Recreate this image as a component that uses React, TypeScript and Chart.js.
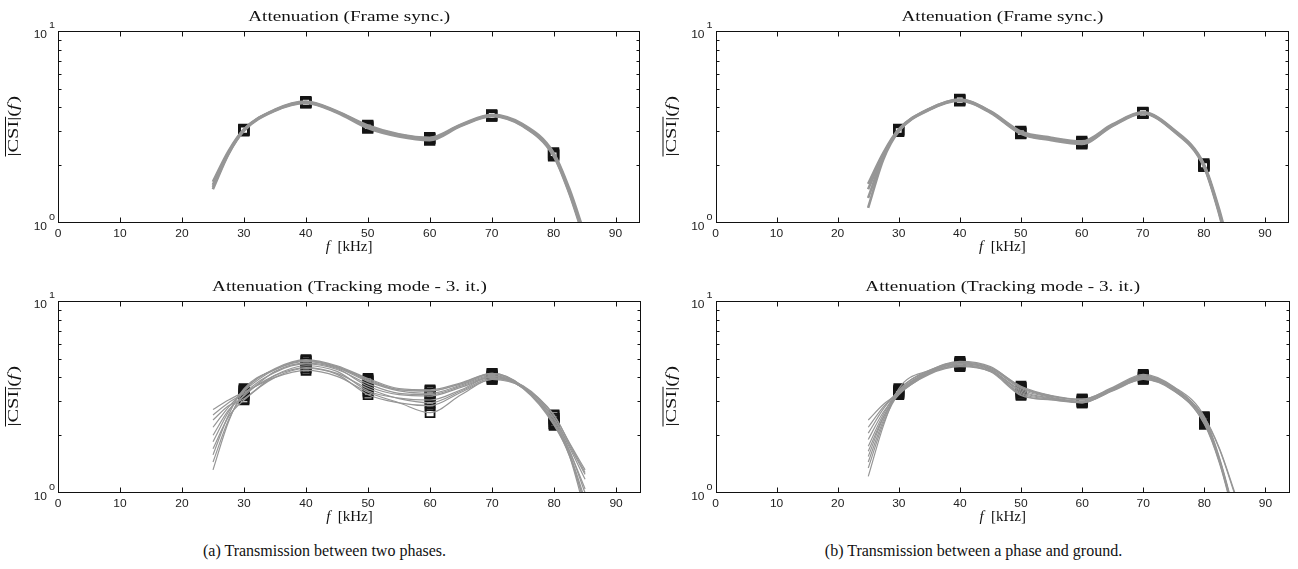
import React, { useEffect, useRef } from "react";
import { Chart, registerables } from "chart.js";

Chart.register(...registerables);

// Frequencies (kHz) at which the fitted attenuation curves are sampled
const FIT_FREQS = [25, 27.5, 30, 35, 40, 45, 50, 55, 60, 65, 70, 75, 80, 82.5, 85];
// Carrier frequencies (kHz) where the CSI was measured (square markers)
const MEASURED_FREQS = [30, 40, 50, 60, 70, 80];

const X_TICKS = [0, 10, 20, 30, 40, 50, 60, 70, 80, 90];
const X_MAX = 94;
const Y_DECADES = [0, 1];
const Y_MINOR_TICKS = [2, 3, 4, 5, 6, 7, 8, 9];

const TITLE_FRAME = "Attenuation (Frame sync.)";
const TITLE_TRACKING = "Attenuation (Tracking mode - 3. it.)";
const CAPTION_A = "(a) Transmission between two phases.";
const CAPTION_B = "(b) Transmission between a phase and ground.";

// (a) two phases, frame synchronisation
const frameSyncPhases = [
  [1.50, 2.28, 3.02, 3.84, 4.22, 3.76, 3.12, 2.82, 2.70, 3.20, 3.60, 3.20, 2.24, 1.44, 0.82],
  [1.58, 2.32, 3.05, 3.87, 4.26, 3.79, 3.17, 2.86, 2.74, 3.23, 3.63, 3.24, 2.28, 1.48, 0.85],
  [1.64, 2.36, 3.07, 3.89, 4.29, 3.82, 3.22, 2.90, 2.78, 3.25, 3.66, 3.27, 2.32, 1.52, 0.88],
  [1.54, 2.30, 3.04, 3.86, 4.24, 3.80, 3.19, 2.88, 2.76, 3.22, 3.62, 3.22, 2.26, 1.46, 0.84],
];

// (a) two phases, tracking mode after 3 iterations
const trackingPhases = [
  [2.72, 3.05, 3.35, 4.00, 4.35, 4.05, 3.35, 2.95, 2.62, 3.25, 3.90, 3.62, 2.52, 1.82, 1.32],
  [2.55, 2.95, 3.30, 4.10, 4.50, 4.20, 3.50, 3.10, 2.95, 3.40, 3.95, 3.58, 2.45, 1.76, 1.25],
  [2.40, 2.85, 3.10, 4.10, 4.60, 4.30, 3.40, 3.12, 3.05, 3.45, 4.05, 3.60, 2.45, 1.72, 1.18],
  [2.20, 2.80, 3.40, 4.40, 4.90, 4.55, 3.90, 3.45, 3.40, 3.70, 4.15, 3.55, 2.30, 1.60, 0.92],
  [2.00, 2.70, 3.20, 4.30, 4.75, 4.45, 3.60, 3.25, 3.20, 3.55, 4.00, 3.52, 2.35, 1.65, 1.05],
  [1.85, 2.65, 3.45, 4.45, 4.95, 4.60, 3.95, 3.50, 3.45, 3.75, 4.20, 3.58, 2.30, 1.58, 0.86],
  [1.70, 2.50, 3.05, 4.00, 4.45, 4.15, 3.25, 2.95, 2.85, 3.35, 3.90, 3.55, 2.55, 1.80, 1.28],
  [1.58, 2.55, 3.50, 4.40, 4.85, 4.50, 3.80, 3.40, 3.30, 3.65, 4.10, 3.50, 2.25, 1.55, 0.80],
  [1.45, 2.40, 3.25, 4.25, 4.70, 4.40, 3.70, 3.30, 3.25, 3.60, 4.05, 3.52, 2.40, 1.66, 1.00],
  [1.32, 2.35, 3.40, 4.40, 4.90, 4.55, 3.85, 3.45, 3.40, 3.72, 4.20, 3.58, 2.28, 1.56, 0.88],
];

// (b) phase to ground, frame synchronisation
const frameSyncGround = [
  [1.20, 2.15, 3.00, 3.88, 4.33, 3.76, 2.92, 2.70, 2.58, 3.20, 3.72, 3.02, 1.97, 1.12, 0.54],
  [1.35, 2.22, 3.03, 3.90, 4.36, 3.79, 2.96, 2.74, 2.62, 3.23, 3.75, 3.05, 2.00, 1.15, 0.56],
  [1.50, 2.28, 3.05, 3.92, 4.38, 3.82, 3.00, 2.78, 2.66, 3.26, 3.77, 3.08, 2.03, 1.18, 0.58],
  [1.60, 2.32, 3.07, 3.93, 4.40, 3.80, 2.94, 2.72, 2.60, 3.22, 3.74, 3.04, 1.99, 1.14, 0.55],
];

// (b) phase to ground, tracking mode after 3 iterations
const trackingGround = [
  [2.40, 2.90, 3.30, 4.20, 4.60, 4.30, 3.45, 3.15, 3.00, 3.45, 3.95, 3.45, 2.40, 1.48, 0.76],
  [2.20, 2.82, 3.35, 4.25, 4.70, 4.40, 3.35, 3.10, 2.95, 3.40, 3.90, 3.40, 2.35, 1.45, 0.74],
  [2.05, 2.75, 3.40, 4.30, 4.75, 4.45, 3.55, 3.20, 3.05, 3.50, 4.05, 3.50, 2.42, 1.50, 0.76],
  [1.90, 2.65, 3.30, 4.20, 4.60, 4.32, 3.30, 3.08, 2.98, 3.45, 4.00, 3.48, 2.45, 1.68, 0.98],
  [1.75, 2.58, 3.45, 4.35, 4.80, 4.50, 3.60, 3.22, 3.08, 3.52, 4.10, 3.55, 2.48, 1.70, 1.00],
  [1.65, 2.50, 3.25, 4.15, 4.55, 4.28, 3.22, 3.05, 2.95, 3.42, 3.92, 3.42, 2.30, 1.44, 0.74],
  [1.55, 2.48, 3.35, 4.25, 4.70, 4.40, 3.40, 3.12, 3.00, 3.48, 4.02, 3.50, 2.38, 1.47, 0.75],
  [1.45, 2.40, 3.40, 4.30, 4.75, 4.45, 3.50, 3.18, 3.05, 3.50, 4.08, 3.52, 2.40, 1.48, 0.76],
  [1.35, 2.32, 3.30, 4.20, 4.65, 4.35, 3.25, 3.06, 2.97, 3.44, 3.98, 3.46, 2.28, 1.42, 0.72],
  [1.22, 2.25, 3.50, 4.35, 4.85, 4.55, 3.55, 3.20, 3.08, 3.55, 4.15, 3.58, 2.50, 1.52, 0.78],
];

const CURVE_GRAY = "rgb(150,150,150)";
const MARKER_EDGE = "#141414";
const SANS = '"Liberation Sans", Arial, Helvetica, sans-serif';
const SERIF = '"Liberation Serif", "Times New Roman", serif';
// horizontal widening applied to the axis lettering
const SANS_STRETCH = 1.2;
const TITLE_STRETCH = 1.37;
const YLABEL_STRETCH = 1.36;

type PanelProps = {
  title: string;
  curves: number[][];
  lineWidth: number;
  markerEdge: number;
  x: number;
  y: number;
  width: number;
  height: number;
  padding: { left: number; right: number; top: number; bottom: number };
};

function stretchedText(
  ctx: CanvasRenderingContext2D,
  text: string,
  x: number,
  y: number,
  sx: number
) {
  ctx.save();
  ctx.translate(x, y);
  ctx.scale(sx, 1);
  ctx.fillText(text, 0, 0);
  ctx.restore();
}

function makeAxesPlugin(title: string) {
  return {
    id: "matlabAxes",
    afterDatasetsDraw(chart: any) {
      const { ctx, chartArea: a } = chart;
      const xs = chart.scales.x;
      const ys = chart.scales.y;
      const L = Math.round(a.left) + 0.5;
      const R = Math.round(a.right) - 0.5;
      const T = Math.round(a.top) + 0.5;
      const B = Math.round(a.bottom) - 0.5;
      ctx.save();

      // box and inward ticks
      ctx.strokeStyle = "#111";
      ctx.lineWidth = 1;
      ctx.strokeRect(L, T, R - L, B - T);
      ctx.beginPath();
      for (const v of X_TICKS) {
        const px = Math.round(xs.getPixelForValue(v)) + 0.5;
        ctx.moveTo(px, B);
        ctx.lineTo(px, B - 5);
        ctx.moveTo(px, T);
        ctx.lineTo(px, T + 5);
      }
      for (const v of Y_MINOR_TICKS) {
        const py = Math.round(ys.getPixelForValue(v)) + 0.5;
        ctx.moveTo(L, py);
        ctx.lineTo(L + 3, py);
        ctx.moveTo(R, py);
        ctx.lineTo(R - 3, py);
      }
      ctx.stroke();

      // x tick labels
      ctx.fillStyle = "#222";
      ctx.font = `10px ${SANS}`;
      ctx.textAlign = "center";
      ctx.textBaseline = "middle";
      for (const v of X_TICKS) {
        stretchedText(ctx, String(v), xs.getPixelForValue(v), a.bottom + 11, SANS_STRETCH);
      }

      // y tick labels as powers of ten
      for (const e of Y_DECADES) {
        const py = ys.getPixelForValue(Math.pow(10, e));
        ctx.font = `10px ${SANS}`;
        ctx.textAlign = "right";
        ctx.textBaseline = "middle";
        stretchedText(ctx, "10", a.left - 11, py + 4, SANS_STRETCH);
        ctx.font = `9px ${SANS}`;
        ctx.textAlign = "left";
        stretchedText(ctx, String(e), a.left - 9, py - 5, SANS_STRETCH);
      }

      // title
      const cx = (a.left + a.right) / 2;
      ctx.fillStyle = "#111";
      ctx.font = `14px ${SERIF}`;
      ctx.textAlign = "center";
      ctx.textBaseline = "alphabetic";
      stretchedText(ctx, title, cx, a.top - 10, TITLE_STRETCH);

      // x axis label: f [kHz]
      ctx.textAlign = "left";
      const fItalic = `italic 15px ${SERIF}`;
      const upright = `15px ${SERIF}`;
      ctx.font = fItalic;
      const wF = ctx.measureText("f").width;
      ctx.font = upright;
      const unit = "  [kHz]";
      const wU = ctx.measureText(unit).width;
      const sx = cx - (wF + wU) / 2;
      const by = a.bottom + 28;
      ctx.font = fItalic;
      ctx.fillText("f", sx, by);
      ctx.font = upright;
      ctx.fillText(unit, sx + wF, by);

      // y axis label: overline |CSI| (f), rotated
      ctx.translate(a.left - 40, (a.top + a.bottom) / 2);
      ctx.rotate(-Math.PI / 2);
      ctx.scale(YLABEL_STRETCH, 1);
      const parts: [string, string][] = [
        ["|CSI|", upright],
        ["(", upright],
        ["f", fItalic],
        [")", upright],
      ];
      let total = 0;
      const widths = parts.map(([t, f]) => {
        ctx.font = f;
        const w = ctx.measureText(t).width;
        total += w;
        return w;
      });
      let px = -total / 2;
      parts.forEach(([t, f], i) => {
        ctx.font = f;
        ctx.fillText(t, px, 0);
        if (i === 0) {
          ctx.beginPath();
          ctx.lineWidth = 1;
          ctx.moveTo(px, -12.5);
          ctx.lineTo(px + widths[0], -12.5);
          ctx.stroke();
        }
        px += widths[i] + (i === 2 ? 1 : 0);
      });

      ctx.restore();
    },
  };
}

function AttenuationPanel(props: PanelProps) {
  const ref = useRef<HTMLCanvasElement | null>(null);

  useEffect(() => {
    if (!ref.current) return;
    const lineSets = props.curves.map((c) => ({
      type: "line" as const,
      data: FIT_FREQS.map((f, i) => ({ x: f, y: c[i] })),
      borderColor: CURVE_GRAY,
      borderWidth: props.lineWidth,
      pointRadius: 0,
      cubicInterpolationMode: "monotone" as const,
      fill: false,
      order: 0,
    }));
    const markerSets = props.curves.map((c) => ({
      type: "line" as const,
      showLine: false,
      data: MEASURED_FREQS.map((f) => ({ x: f, y: c[FIT_FREQS.indexOf(f)] })),
      pointStyle: "rect" as const,
      pointRadius: 6.3,
      pointBorderColor: MARKER_EDGE,
      pointBorderWidth: props.markerEdge,
      pointBackgroundColor: "rgba(255,255,255,0)",
      order: 1,
    }));

    const chart = new Chart(ref.current, {
      type: "line",
      data: { datasets: [...lineSets, ...markerSets] as any },
      options: {
        animation: false,
        responsive: false,
        devicePixelRatio: 1,
        events: [],
        layout: { padding: props.padding },
        plugins: {
          legend: { display: false },
          tooltip: { enabled: false },
          title: { display: false },
        },
        scales: {
          x: { type: "linear", min: 0, max: X_MAX, display: false },
          y: { type: "logarithmic", min: 1, max: 10, display: false },
        },
      },
      plugins: [makeAxesPlugin(props.title)],
    });
    return () => chart.destroy();
  }, [props]);

  return (
    <canvas
      ref={ref}
      width={props.width}
      height={props.height}
      style={{
        position: "absolute",
        left: props.x,
        top: props.y,
        width: props.width,
        height: props.height,
      }}
    />
  );
}

const LEFT_PAD = { left: 58, right: 8, top: 31, bottom: 47 };
const RIGHT_PAD = { left: 66.5, right: 1, top: 31, bottom: 47 };

export default function App() {
  const captionStyle = (left: number): React.CSSProperties => ({
    position: "absolute",
    left,
    top: 542,
    width: 649,
    textAlign: "center",
    fontFamily: SERIF,
    fontSize: 16,
    color: "#111",
  });
  return (
    <div
      style={{
        position: "fixed",
        left: 0,
        top: 0,
        width: 1298,
        height: 569,
        background: "#fff",
        overflow: "hidden",
      }}
    >
      <AttenuationPanel title={TITLE_FRAME} curves={frameSyncPhases} lineWidth={2.6} markerEdge={2.4} x={0} y={0} width={649} height={270} padding={LEFT_PAD} />
      <AttenuationPanel title={TITLE_TRACKING} curves={trackingPhases} lineWidth={1.2} markerEdge={1.8} x={0} y={270} width={649} height={270} padding={LEFT_PAD} />
      <AttenuationPanel title={TITLE_FRAME} curves={frameSyncGround} lineWidth={2.6} markerEdge={2.4} x={649} y={0} width={649} height={270} padding={RIGHT_PAD} />
      <AttenuationPanel title={TITLE_TRACKING} curves={trackingGround} lineWidth={1.2} markerEdge={1.8} x={649} y={270} width={649} height={270} padding={RIGHT_PAD} />
      <div style={captionStyle(0)}>{CAPTION_A}</div>
      <div style={captionStyle(649)}>{CAPTION_B}</div>
    </div>
  );
}
